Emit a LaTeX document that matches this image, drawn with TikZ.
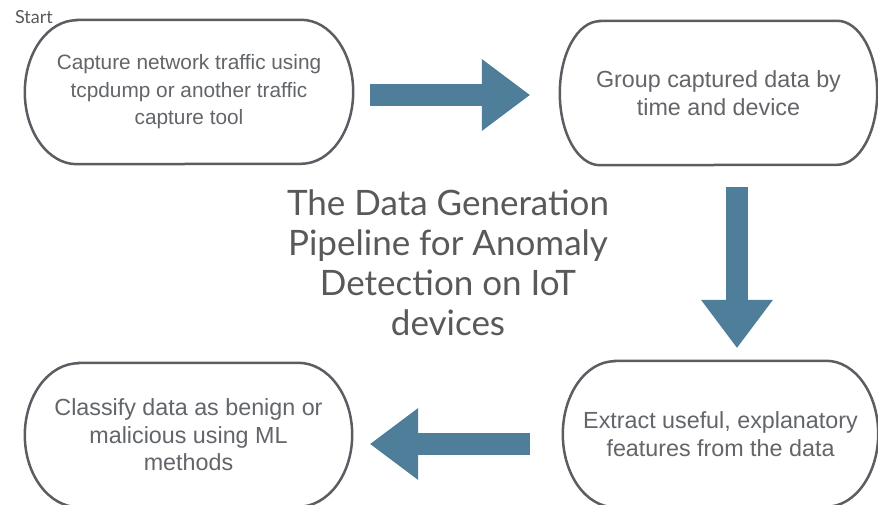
\documentclass[tikz,border=0pt]{standalone}
\usepackage{fontspec}
\setmainfont{Liberation Sans}
\newfontfamily\latofont{Lato}
\usetikzlibrary{arrows.meta}
\definecolor{outl}{HTML}{5A5E63}
\definecolor{txtc}{HTML}{626569}
\definecolor{titc}{HTML}{595959}
\definecolor{acol}{HTML}{4F7E9B}
\tikzset{
  stadbox/.style n args={2}{draw=none, minimum width=#1, minimum height=#2, inner sep=0pt,
     align=center, text=txtc},
  outline/.style={draw=outl, line width=2.5pt},
  bigarrow/.style={draw=acol, line width=22pt,
     -{Triangle[length=48pt, width=72pt, line width=0pt]}},
}
\newcommand\stadoutline[3]{%
  \draw[outline] ([xshift=#2]#1.north west) -- ([xshift=-#2]#1.north east)
     arc[start angle=90, end angle=-90, x radius=#2, y radius=#3]
     -- ([xshift=#2]#1.south west)
     arc[start angle=270, end angle=90, x radius=#2, y radius=#3] -- cycle;}
\begin{document}
\begin{tikzpicture}[x=1pt, y=1pt]
\useasboundingbox[fill=white] (0,0) rectangle (878,505);

\node[stadbox={328pt}{144pt}, font=\fontsize{20.8}{27.5}\selectfont] (n1) at (189,413)
  {Capture network traffic using\\tcpdump or another traffic\\capture tool};
\node[stadbox={317pt}{144pt}, font=\fontsize{23.3}{27.5}\selectfont] (n2) at (718.5,412)
  {Group captured data by\\time and device};
\node[stadbox={315pt}{146pt}, font=\fontsize{23.3}{27.5}\selectfont] (n3) at (720.5,71)
  {Extract useful, explanatory\\features from the data};
\node[stadbox={327pt}{144pt}, font=\fontsize{23.3}{27.5}\selectfont] (n4) at (188.5,70)
  {Classify data as benign or\\malicious using ML\\methods};

\stadoutline{n1}{52pt}{72pt}
\stadoutline{n2}{40pt}{72pt}
\stadoutline{n3}{52pt}{73pt}
\stadoutline{n4}{54pt}{72pt}

\node[font=\latofont\fontsize{18}{20}\selectfont, text=titc] (start) at (34,488) {Start};

\node[font=\latofont\fontsize{35}{40}\selectfont, text=titc, align=center] (title) at (448,242.5)
  {The Data Generation\\Pipeline for Anomaly\\Detection on IoT\\devices};

\draw[bigarrow, shorten <=17pt, shorten >=30pt] ([yshift=-3pt]n1.east) -- ([yshift=-3pt]n1.east -| n2.west);
\draw[bigarrow, shorten <=22pt, shorten >=13pt] ([xshift=18.5pt]n2.south) -- ([xshift=18.5pt]n2.south |- n3.north);
\draw[bigarrow, shorten <=33pt, shorten >=18pt] ([yshift=-10pt]n3.west) -- ([yshift=-10pt]n3.west -| n4.east);
\end{tikzpicture}
\end{document}
